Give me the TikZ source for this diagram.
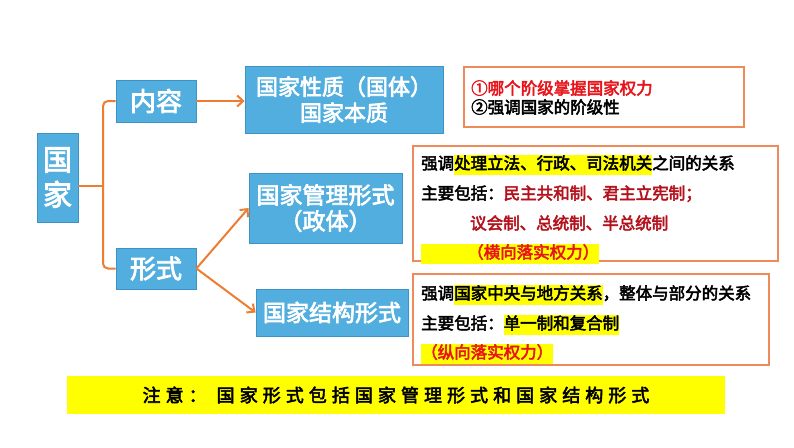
\documentclass[tikz,border=0pt]{standalone}
\usepackage{fontspec}
\setmainfont{Noto Sans CJK SC}
\newfontfamily\hv{Noto Sans CJK SC}[FakeBold=3]
\usetikzlibrary{arrows.meta}
\definecolor{boxblue}{HTML}{52AEDF}
\definecolor{boxblueline}{HTML}{3E93C6}
\definecolor{conn}{HTML}{ED7D31}
\definecolor{frameor}{HTML}{EF8A5B}
\definecolor{hlyellow}{HTML}{FFFF00}
\definecolor{txtred}{HTML}{E8141B}
\definecolor{darkred}{HTML}{B3121C}
\newcommand\hlt[1]{{\setlength\fboxsep{0pt}\colorbox{hlyellow}{\strut#1}}}
\tikzset{
  bluebox/.style={draw=boxblueline, line width=0.8pt, fill=boxblue, text=white,
    align=center, inner sep=0pt},
  framebox/.style={draw=frameor, line width=1.8pt, fill=white, inner sep=0pt},
  connline/.style={draw=conn, line width=2pt},
  connarrow/.style={connline, -{Straight Barb[length=6pt,width=11pt,line width=2pt]}},
  linetxt/.style={anchor=base west, inner sep=0pt, font=\hv\fontsize{16.5}{19}\selectfont},
  banner/.style={fill=hlyellow, inner sep=0pt}
}
\begin{document}
\begin{tikzpicture}[x=1pt,y=-1pt]
\useasboundingbox[fill=white] (0,0) rectangle (794,447);

% blue boxes
\node[bluebox, minimum width=41pt, minimum height=89pt, font=\hv\fontsize{29}{35}\selectfont] (ng) at (57.5,177.5) {国\\家};
\node[bluebox, minimum width=80pt, minimum height=42pt, font=\hv\fontsize{26}{30}\selectfont] (nr) at (156,101) {内容};
\node[bluebox, minimum width=80pt, minimum height=41pt, font=\hv\fontsize{26}{30}\selectfont] (xs) at (156,268.5) {形式};
\node[bluebox, minimum width=198pt, minimum height=67pt, font=\hv\fontsize{22}{26}\selectfont] (gx) at (344,99.5) {国家性质（国体）\\国家本质};
\node[bluebox, minimum width=153pt, minimum height=70pt, font=\hv\fontsize{23}{26}\selectfont] (gl) at (325.5,208) {国家管理形式\\（政体）};
\node[bluebox, minimum width=152pt, minimum height=47pt, font=\hv\fontsize{23}{26}\selectfont] (gj) at (332,312.5) {国家结构形式};

% framed boxes
\node[framebox, minimum width=280pt, minimum height=60pt] (rb) at (604,97) {};
\node[framebox, minimum width=365pt, minimum height=115pt] (b2) at (595.5,203.5) {};
\node[framebox, minimum width=356pt, minimum height=91pt] (b3) at (591,319.5) {};

% connectors
\coordinate (brk) at (103,186);
\draw[connline] (ng.east |- brk) -- (brk);
\draw[connline, rounded corners=5pt] (nr.west) -| (brk) |- (xs.west);
\draw[connarrow] (nr.east) -- (nr.east -| gx.west);
\draw[connarrow] (xs.east) -- (gl.west);
\draw[connarrow] (xs.east) -- (gj.west);

% red box text
\node[linetxt, text=txtred] (r1) at (471,94.3) {①哪个阶级掌握国家权力};
\node[linetxt] (r2) at (471,113.3) {②强调国家的阶级性};

% box 2 text
\node[linetxt] (a1) at (421,169.3) {强调\hlt{处理立法、行政、司法机关}之间的关系};
\node[linetxt] (a2) at (421,199.3) {主要包括：\textcolor{darkred}{民主共和制、君主立宪制；}};
\node[linetxt, text=darkred] (a3) at (470,229.3) {议会制、总统制、半总统制};
\node[linetxt] (a4) at (421,258.3) {\hlt{\hspace*{46pt}\textcolor{txtred}{（横向落实权力）}}};

% box 3 text
\node[linetxt] (c1) at (421,299.3) {强调\hlt{国家中央与地方关系}，整体与部分的关系};
\node[linetxt] (c2) at (421,329.3) {主要包括：\hlt{单一制和复合制}};
\node[linetxt] (c3) at (421,358.3) {\hlt{\textcolor{txtred}{（纵向落实权力）}}};

% banner
\node[banner, minimum width=658pt, minimum height=38pt] (bn) at (396,395) {};
\node[inner sep=0pt, font=\hv\fontsize{18}{22}\selectfont\addfontfeature{LetterSpace=28}] (bt) at (bn.center) {注意：\hspace{10pt}国家形式包括国家管理形式和国家结构形式};
\end{tikzpicture}
\end{document}
